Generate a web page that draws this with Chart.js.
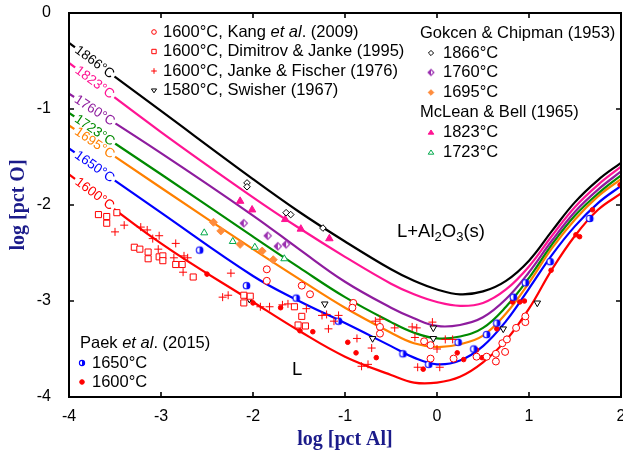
<!DOCTYPE html>
<html><head><meta charset="utf-8">
<script src="https://cdn.jsdelivr.net/npm/chart.js@4.4.1/dist/chart.umd.min.js"></script>
<style>html,body{margin:0;padding:0;background:#fff;}</style>
</head><body>
<canvas id="c" width="623" height="455" style="width:623px;height:455px;display:block"></canvas>
<script>
// ---------- DATA ----------
const xGrid = [-4,-3,-2,-1.5,-1,-0.5,-0.25,0,0.25,0.5,0.75,1,1.25,1.5,1.75,2];
const curveNames = ['1866°C','1823°C','1760°C','1723°C','1695°C','1650°C','1600°C'];
const curve1866 = [-0.31,-1.02,-1.73,-2.07,-2.38,-2.67,-2.79,-2.88,-2.93,-2.90,-2.79,-2.58,-2.27,-1.97,-1.74,-1.56];
const curve1823 = [-0.52,-1.24,-1.92,-2.24,-2.54,-2.82,-2.93,-3.01,-3.05,-3.02,-2.88,-2.64,-2.32,-2.02,-1.79,-1.60];
const curve1760 = [-0.84,-1.46,-2.11,-2.46,-2.80,-3.07,-3.18,-3.26,-3.25,-3.17,-2.98,-2.70,-2.37,-2.07,-1.84,-1.65];
const curve1723 = [-1.04,-1.68,-2.33,-2.65,-2.96,-3.22,-3.33,-3.39,-3.37,-3.28,-3.06,-2.76,-2.41,-2.11,-1.88,-1.69];
const curve1695 = [-1.17,-1.82,-2.46,-2.77,-3.07,-3.33,-3.44,-3.48,-3.45,-3.36,-3.13,-2.81,-2.45,-2.15,-1.91,-1.73];
const curve1650 = [-1.41,-2.08,-2.74,-3.00,-3.23,-3.47,-3.59,-3.66,-3.62,-3.47,-3.21,-2.87,-2.52,-2.22,-1.98,-1.80];
const curve1600 = [-1.68,-2.40,-3.01,-3.31,-3.58,-3.77,-3.85,-3.85,-3.79,-3.64,-3.41,-3.08,-2.67,-2.32,-2.05,-1.88];

const kang1600 = [[-1.85,-2.67],[-1.85,-2.79],[-1.47,-2.84],[-1.38,-2.93],[-0.91,-3.02],[-0.92,-3.07],[-0.62,-3.27],[-0.62,-3.34],[-0.14,-3.42],[-0.07,-3.46],[-0.07,-3.60],[0.18,-3.60],[0.43,-3.58],[0.54,-3.58],[0.64,-3.55],[0.64,-3.63],[0.74,-3.53],[0.71,-3.44],[0.76,-3.40],[0.86,-3.28],[0.96,-3.22],[0.96,-3.16]];
const dimitrov1600 = [[-3.68,-2.10],[-3.59,-2.12],[-3.59,-2.19],[-3.48,-2.08],[-3.29,-2.44],[-3.23,-2.46],[-3.14,-2.49],[-3.14,-2.56],[-3.02,-2.54],[-2.98,-2.53],[-2.98,-2.58],[-2.84,-2.62],[-2.77,-2.62],[-2.65,-2.75],[-2.10,-2.94],[-2.03,-2.95],[-2.10,-3.02],[-1.55,-3.06],[-1.47,-3.16],[-1.51,-3.25],[-1.43,-3.26]];
const janke1600 = [[-3.50,-2.28],[-3.40,-2.21],[-3.22,-2.23],[-3.15,-2.26],[-3.09,-2.35],[-3.02,-2.32],[-2.84,-2.40],[-3.03,-2.46],[-2.86,-2.55],[-2.75,-2.53],[-2.71,-2.55],[-2.76,-2.70],[-2.24,-2.71],[-2.33,-2.96],[-2.27,-2.94],[-1.92,-3.06],[-1.82,-3.06],[-1.68,-3.04],[-1.62,-3.03],[-1.42,-3.08],[-1.25,-3.15],[-1.20,-3.14],[-1.12,-3.21],[-1.07,-3.15],[-1.18,-3.29],[-0.87,-3.39],[-0.71,-3.49],[-0.82,-3.68],[-0.75,-3.66],[-0.67,-3.21],[-0.62,-3.19],[-0.46,-3.28],[-0.27,-3.27],[-0.22,-3.28],[-0.24,-3.38],[-0.05,-3.22],[0.09,-3.40],[0.17,-3.40],[0.00,-3.50],[-0.21,-3.69],[0.03,-3.69]];
const swisher1580 = [[-2.04,-2.98],[-1.22,-3.03],[-0.70,-3.39],[-0.04,-3.28],[-0.04,-3.39],[0.72,-3.29],[1.09,-3.02]];
const gokcen1866 = [[-2.065,-1.77],[-2.065,-1.81],[-1.64,-2.08],[-1.59,-2.10],[-1.24,-2.24]];
const gokcen1760 = [[-2.10,-2.19],[-1.84,-2.32],[-1.73,-2.43],[-1.64,-2.41]];
const gokcen1695 = [[-2.43,-2.18],[-2.35,-2.27],[-2.14,-2.41],[-1.90,-2.48],[-1.78,-2.57]];
const mclean1823 = [[-2.14,-1.96],[-2.01,-2.05],[-1.65,-2.15],[-1.48,-2.25],[-1.17,-2.35]];
const mclean1723 = [[-2.53,-2.29],[-2.22,-2.38],[-1.98,-2.44],[-1.66,-2.56]];
const paek1650 = [[-2.58,-2.47],[-2.07,-2.84],[-1.53,-2.97],[-1.07,-3.21],[-0.37,-3.55],[-0.09,-3.66],[0.23,-3.43],[0.40,-3.50],[0.54,-3.35],[0.65,-3.23],[0.83,-2.96],[0.96,-2.81],[1.23,-2.59],[1.66,-2.14]];
const paek1600 = [[-2.50,-2.72],[-2.00,-3.02],[-1.70,-3.07],[-1.49,-3.31],[-1.35,-3.32],[-0.97,-3.43],[-0.88,-3.54],[-0.66,-3.59],[-0.15,-3.71],[0.22,-3.54],[0.29,-3.61],[0.43,-3.51],[0.49,-3.59],[0.65,-3.29],[0.76,-3.39],[0.82,-3.01],[0.90,-3.01],[0.95,-3.00],[1.24,-2.68],[1.51,-2.31],[1.55,-2.33],[1.69,-2.05],[1.99,-1.79]];

const xTicks = [-4,-3,-2,-1,0,1,2];
const yTicks = [-4,-3,-2,-1,0];

// ---------- STYLE ----------
const FONT = '"Liberation Sans", Arial, sans-serif';
const SERIF = '"Liberation Serif", "Times New Roman", serif';
const LEG = 16.5;
const curveColors = ['#000000','#ff1493','#8e1c9e','#008a00','#ff8000','#0000ff','#ff0000'];
const curves = [curve1866,curve1823,curve1760,curve1723,curve1695,curve1650,curve1600];

function halfMarker(shape, color, r){
  const s = Math.ceil(2*r+4), c = s/2;
  const cv = document.createElement('canvas'); cv.width = s; cv.height = s;
  const g = cv.getContext('2d');
  g.lineWidth = 1.1; g.strokeStyle = color; g.fillStyle = color;
  if(shape==='circle'){
    g.fillStyle='#fff'; g.beginPath(); g.arc(c,c,r,0,Math.PI*2); g.fill();
    g.fillStyle=color; g.beginPath(); g.arc(c,c,r,-Math.PI/2,Math.PI/2); g.closePath(); g.fill();
    g.beginPath(); g.arc(c,c,r,0,Math.PI*2); g.stroke();
  } else {
    g.fillStyle='#fff'; g.beginPath(); g.moveTo(c,c-r); g.lineTo(c+r,c); g.lineTo(c,c+r); g.lineTo(c-r,c); g.closePath(); g.fill();
    g.fillStyle=color; g.beginPath(); g.moveTo(c,c-r); g.lineTo(c-r,c); g.lineTo(c,c+r); g.closePath(); g.fill();
    g.beginPath(); g.moveTo(c,c-r); g.lineTo(c+r,c); g.lineTo(c,c+r); g.lineTo(c-r,c); g.closePath(); g.stroke();
  }
  return cv;
}
const halfBlue = halfMarker('circle','#0000ff',3.3);
const halfPurple = halfMarker('diamond','#9a2fb0',3.6);
const halfBlueL = halfMarker('circle','#0000ff',2.6);
const halfPurpleL = halfMarker('diamond','#9a2fb0',3.0);

const toXY = a => a.map(p=>({x:p[0],y:p[1]}));

const datasets = [];
const markerDefs = [
  {data:kang1600, pointStyle:'circle', r:3.5, bc:'#ff0000', bg:'#ffffff', bw:1},
  {data:dimitrov1600, pointStyle:'rect', r:4.3, bc:'#ff0000', bg:'#ffffff', bw:1},
  {data:janke1600, pointStyle:'cross', r:4, bc:'#ff0000', bg:'#ff0000', bw:1},
  {data:swisher1580, pointStyle:'triangle', r:3.8, bc:'#000000', bg:'#ffffff', bw:1, rot:180},
  {data:gokcen1866, pointStyle:'rectRot', r:3.3, bc:'#000000', bg:'#ffffff', bw:1},
  {data:gokcen1760, pointStyle:halfPurple, r:3.6, bc:'#9a2fb0', bg:'#9a2fb0', bw:1},
  {data:gokcen1695, pointStyle:'rectRot', r:4, bc:'#ff8c3c', bg:'#ff8c3c', bw:1},
  {data:mclean1823, pointStyle:'triangle', r:4.3, bc:'#ff1493', bg:'#ff1493', bw:1},
  {data:mclean1723, pointStyle:'triangle', r:4, bc:'#00a84a', bg:'#ffffff', bw:1},
  {data:paek1650, pointStyle:halfBlue, r:3.3, bc:'#0000ff', bg:'#0000ff', bw:1},
  {data:paek1600, pointStyle:'circle', r:2.3, bc:'#ff0000', bg:'#ff0000', bw:1},
];
markerDefs.forEach(m=>{
  datasets.push({type:'scatter', data:toXY(m.data), showLine:false, pointStyle:m.pointStyle,
    pointRadius:m.r, pointBorderColor:m.bc, pointBackgroundColor:m.bg, pointBorderWidth:m.bw,
    pointRotation:m.rot||0, order:0});
});
curves.forEach((cv,i)=>{
  datasets.push({type:'scatter', data:xGrid.map((x,j)=>({x:x,y:cv[j]})), showLine:true,
    borderColor:curveColors[i], borderWidth:2.2, pointRadius:0, tension:0.4,
    curveLabel:curveNames[i], order:1});
});

// ---------- PLUGINS ----------
const LABEL_AT = -3.72;
const curveLabelPlugin = {
  id:'curveLabels',
  afterDatasetsDraw(chart){
    const ctx=chart.ctx, xs=chart.scales.x, ys=chart.scales.y;
    chart.data.datasets.forEach(ds=>{
      if(!ds.curveLabel) return;
      const pts=ds.data; let i=0;
      while(i<pts.length-2 && pts[i+1].x<LABEL_AT) i++;
      const p0=pts[i], p1=pts[i+1];
      const t=(LABEL_AT-p0.x)/(p1.x-p0.x), ly=p0.y+t*(p1.y-p0.y);
      const px=xs.getPixelForValue(LABEL_AT), py=ys.getPixelForValue(ly);
      const ang=Math.atan2(ys.getPixelForValue(p1.y)-ys.getPixelForValue(p0.y), xs.getPixelForValue(p1.x)-xs.getPixelForValue(p0.x));
      ctx.save(); ctx.translate(px,py); ctx.rotate(ang);
      ctx.font='13.5px '+FONT;
      const w=ctx.measureText(ds.curveLabel).width;
      ctx.fillStyle='#fff'; ctx.fillRect(-w/2-2,-3.5,w+4,7);
      ctx.fillStyle=ds.borderColor; ctx.textAlign='center'; ctx.textBaseline='middle';
      ctx.fillText(ds.curveLabel,0,0.5);
      ctx.restore();
    });
  }
};

function drawMk(ctx, type, x, y, r, stroke, fill){
  ctx.save(); ctx.lineWidth=1; ctx.strokeStyle=stroke; ctx.fillStyle=fill;
  ctx.beginPath();
  if(type==='circle'){ ctx.arc(x,y,r,0,Math.PI*2); ctx.fill(); ctx.stroke(); }
  else if(type==='rect'){ ctx.rect(x-r,y-r,2*r,2*r); ctx.fill(); ctx.stroke(); }
  else if(type==='cross'){ ctx.moveTo(x-r,y); ctx.lineTo(x+r,y); ctx.moveTo(x,y-r); ctx.lineTo(x,y+r); ctx.stroke(); }
  else if(type==='tridown'){ ctx.moveTo(x-r,y-r*0.6); ctx.lineTo(x+r,y-r*0.6); ctx.lineTo(x,y+r*0.9); ctx.closePath(); ctx.fill(); ctx.stroke(); }
  else if(type==='triup'){ ctx.moveTo(x-r,y+r*0.6); ctx.lineTo(x+r,y+r*0.6); ctx.lineTo(x,y-r*0.9); ctx.closePath(); ctx.fill(); ctx.stroke(); }
  else if(type==='diamond'){ ctx.moveTo(x,y-r); ctx.lineTo(x+r,y); ctx.lineTo(x,y+r); ctx.lineTo(x-r,y); ctx.closePath(); ctx.fill(); ctx.stroke(); }
  ctx.restore();
}
function drawRich(ctx, parts, x, y){
  let cx=x;
  parts.forEach(p=>{
    ctx.font=(p.italic?'italic ':'')+(p.size||LEG)+'px '+FONT;
    ctx.fillText(p.t, cx, y+(p.dy||0));
    cx+=ctx.measureText(p.t).width;
  });
}

const decorPlugin = {
  id:'decor',
  afterDraw(chart){
    const ctx=chart.ctx, a=chart.chartArea, xs=chart.scales.x, ys=chart.scales.y;
    ctx.save();
    ctx.strokeStyle='#000'; ctx.lineWidth=2;
    ctx.strokeRect(a.left, a.top, a.right-a.left, a.bottom-a.top);
    ctx.lineWidth=1.6; ctx.beginPath();
    xTicks.forEach(v=>{ const p=xs.getPixelForValue(v);
      ctx.moveTo(p,a.bottom); ctx.lineTo(p,a.bottom-5); ctx.moveTo(p,a.top); ctx.lineTo(p,a.top+5); });
    yTicks.forEach(v=>{ const p=ys.getPixelForValue(v);
      ctx.moveTo(a.left,p); ctx.lineTo(a.left+5,p); ctx.moveTo(a.right,p); ctx.lineTo(a.right-5,p); });
    ctx.stroke();

    ctx.fillStyle='#000'; ctx.textBaseline='middle'; ctx.textAlign='left';
    const l1=[32,51.5,71,90.5];
    drawMk(ctx,'circle',154,l1[0],2.3,'#ff0000','#fff');
    drawRich(ctx,[{t:'1600°C, Kang '},{t:'et al',italic:true},{t:'. (2009)'}],163,l1[0]);
    drawMk(ctx,'rect',154,l1[1],2.2,'#ff0000','#fff');
    drawRich(ctx,[{t:'1600°C, Dimitrov & Janke (1995)'}],163,l1[1]);
    drawMk(ctx,'cross',154,l1[2],2.8,'#ff0000','#ff0000');
    drawRich(ctx,[{t:'1600°C, Janke & Fischer (1976)'}],163,l1[2]);
    drawMk(ctx,'tridown',154,l1[3],2.6,'#000','#fff');
    drawRich(ctx,[{t:'1580°C, Swisher (1967)'}],163,l1[3]);
    drawRich(ctx,[{t:'Gokcen & Chipman (1953)'}],420,33);
    drawMk(ctx,'diamond',431,53,2.6,'#000','#fff');
    drawRich(ctx,[{t:'1866°C'}],443,53);
    ctx.drawImage(halfPurpleL,431-halfPurpleL.width/2,72.5-halfPurpleL.height/2);
    drawRich(ctx,[{t:'1760°C'}],443,72.5);
    drawMk(ctx,'diamond',431,92.5,2.8,'#ff8c3c','#ff8c3c');
    drawRich(ctx,[{t:'1695°C'}],443,92.5);
    drawRich(ctx,[{t:'McLean & Bell (1965)'}],420,112.5);
    drawMk(ctx,'triup',431,132.5,2.8,'#ff1493','#ff1493');
    drawRich(ctx,[{t:'1823°C'}],443,132.5);
    drawMk(ctx,'triup',431,152.5,2.8,'#00a84a','#fff');
    drawRich(ctx,[{t:'1723°C'}],443,152.5);
    drawRich(ctx,[{t:'Paek '},{t:'et al',italic:true},{t:'. (2015)'}],80,343);
    ctx.drawImage(halfBlueL,82-halfBlueL.width/2,363-halfBlueL.height/2);
    drawRich(ctx,[{t:'1650°C'}],92,363);
    drawMk(ctx,'circle',82,382,2.3,'#ff0000','#ff0000');
    drawRich(ctx,[{t:'1600°C'}],92,382);
    drawRich(ctx,[{t:'L+Al',size:18.5},{t:'2',size:13,dy:5},{t:'O',size:18.5},{t:'3',size:13,dy:5},{t:'(s)',size:18.5}],397,232);
    drawRich(ctx,[{t:'L',size:18.5}],292,370);
    ctx.restore();
  }
};

// ---------- CHART ----------
new Chart(document.getElementById('c'), {
  type:'scatter',
  data:{datasets},
  options:{
    responsive:false, animation:false, devicePixelRatio:1,
    layout:{autoPadding:false, padding:{left:0,right:2,top:13,bottom:0}},
    plugins:{legend:{display:false}, tooltip:{enabled:false}},
    scales:{
      x:{type:'linear', min:-4, max:2,
        afterBuildTicks(s){ s.ticks = xTicks.map(v=>({value:v})); },
        afterFit(s){ s.height=58; s.paddingLeft=0; s.paddingRight=0; },
        grid:{display:false}, border:{display:false},
        ticks:{color:'#000', font:{family:FONT,size:16}, padding:2, maxRotation:0},
        title:{display:true, text:'log [pct Al]', color:'#1b1b8a', font:{family:SERIF, size:20, weight:'bold'}, padding:{top:0,bottom:3}}
      },
      y:{type:'linear', min:-4, max:0,
        afterBuildTicks(s){ s.ticks = yTicks.map(v=>({value:v})); },
        afterFit(s){ s.width=69; s.paddingTop=0; s.paddingBottom=0; },
        grid:{display:false}, border:{display:false},
        ticks:{color:'#000', font:{family:FONT,size:16}, padding:10},
        title:{display:true, text:'log [pct O]', color:'#1b1b8a', font:{family:SERIF, size:20, weight:'bold'}, padding:{top:7,bottom:0}}
      }
    }
  },
  plugins:[curveLabelPlugin, decorPlugin]
});
</script>
</body></html>
